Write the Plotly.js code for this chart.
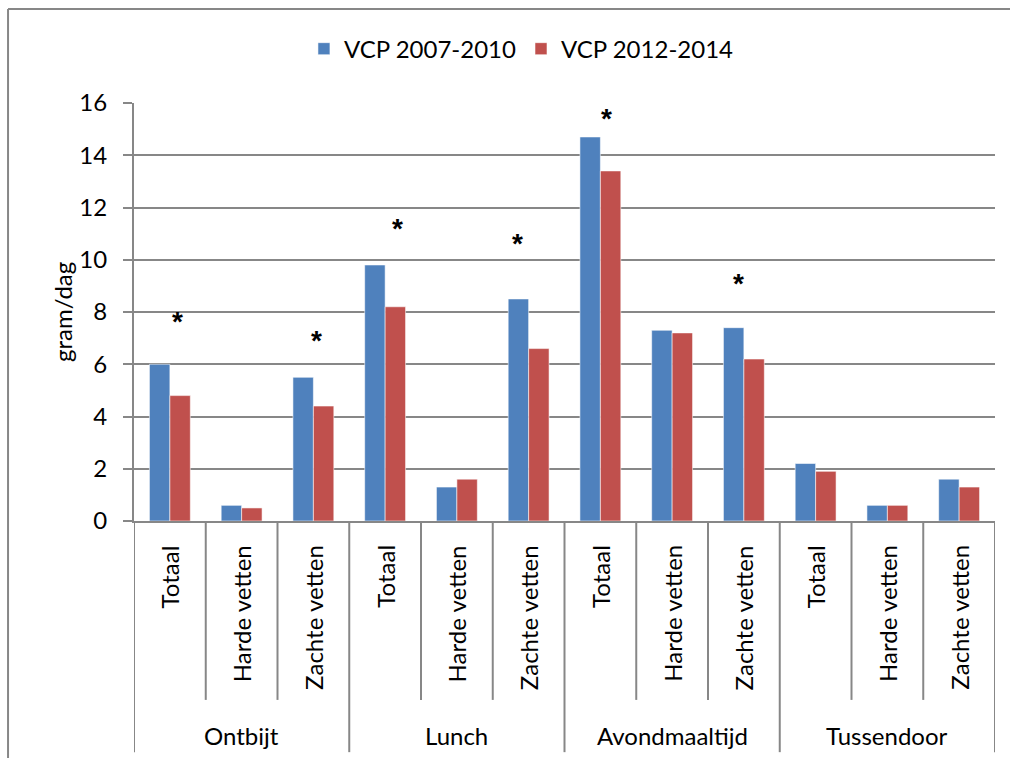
<!DOCTYPE html>
<html>
<head>
<meta charset="utf-8">
<script src="https://cdn.plot.ly/plotly-3.0.1.min.js"></script>
<style>
  html, body { margin: 0; padding: 0; background: #ffffff; }
  #chart { width: 1010px; height: 758px; }
</style>
</head>
<body>
<div id="chart"></div>
<script>
// ---- Data ----
const groups = ['Ontbijt', 'Lunch', 'Avondmaaltijd', 'Tussendoor'];
const subLabels = ['Totaal', 'Harde vetten', 'Zachte vetten',
                   'Totaal', 'Harde vetten', 'Zachte vetten',
                   'Totaal', 'Harde vetten', 'Zachte vetten',
                   'Totaal', 'Harde vetten', 'Zachte vetten'];
const seriesNames = ['VCP 2007-2010', 'VCP 2012-2014'];
const vcp20072010 = [6.0, 0.6, 5.5, 9.8, 1.3, 8.5, 14.7, 7.3, 7.4, 2.2, 0.6, 1.6];
const vcp20122014 = [4.8, 0.5, 4.4, 8.2, 1.6, 6.6, 13.4, 7.2, 6.2, 1.9, 0.6, 1.3];
// significance markers (category position, height in gram/dag)
const starX = [0.1, 2.05, 3.17, 4.85, 6.09, 7.92];
const starY = [7.77, 7.04, 11.33, 10.73, 15.54, 9.22];
const yTitle = 'gram/dag';

// ---- Style ----
const FONT = 'Lato, "Open Sans", sans-serif';
const GRID = '#878787';
const xs = subLabels.map((_, i) => i);
const perGroup = subLabels.length / groups.length;

const traces = [
  {
    type: 'bar', name: seriesNames[0], x: xs, y: vcp20072010,
    marker: { color: '#4F81BD', line: { color: 'rgba(255,255,255,0.55)', width: 1 } },
    hoverinfo: 'y'
  },
  {
    type: 'bar', name: seriesNames[1], x: xs, y: vcp20122014,
    marker: { color: '#C0504D', line: { color: 'rgba(255,255,255,0.55)', width: 1 } },
    hoverinfo: 'y'
  }
];

const shapes = [];
const annotations = [];
// category dividers
for (let k = 0; k <= subLabels.length; k++) {
  const isGroup = (k % perGroup === 0);
  shapes.push({
    type: 'line', xref: 'x', yref: 'paper',
    x0: k - 0.5, x1: k - 0.5, y0: 0, y1: isGroup ? -0.553 : -0.428,
    line: { color: GRID, width: 2 }
  });
}
// outer chart border (left and top)
shapes.push({ type: 'line', xref: 'paper', yref: 'paper', x0: -0.1463, x1: -0.1463, y0: -0.8, y1: 1.2249,
  line: { color: GRID, width: 2 } });
shapes.push({ type: 'line', xref: 'paper', yref: 'paper', x0: -0.1463, x1: 1.2, y0: 1.2249, y1: 1.2249,
  line: { color: GRID, width: 2 } });

// significance asterisks
starX.forEach((sx, i) => {
  annotations.push({
    xref: 'x', yref: 'y', x: sx, y: starY[i], xanchor: 'center', yanchor: 'middle',
    yshift: -3, text: '*', showarrow: false,
    font: { family: '"Liberation Sans", Arial, sans-serif', size: 28, color: '#000', weight: 'bold' }
  });
});
// sub-category labels
subLabels.forEach((lab, i) => {
  annotations.push({
    xref: 'x', yref: 'paper', x: i, y: 0, yanchor: 'top', xanchor: 'center',
    yshift: -22, text: lab, textangle: -90, showarrow: false,
    font: { family: FONT, size: 24, color: '#000' }
  });
});
// group labels
groups.forEach((g, gi) => {
  annotations.push({
    xref: 'x', yref: 'paper', x: gi * perGroup + (perGroup - 1) / 2, y: 0,
    yanchor: 'middle', xanchor: 'center', yshift: -214, text: g, showarrow: false,
    font: { family: FONT, size: 24, color: '#000' }
  });
});
// y-axis title
annotations.push({
  xref: 'paper', yref: 'paper', x: -0.0836, y: 0.5, xanchor: 'center', yanchor: 'middle',
  text: yTitle, textangle: -90, showarrow: false,
  font: { family: FONT, size: 24, color: '#000' }
});

const layout = {
  width: 1010, height: 758,
  margin: { l: 134, r: 15, t: 103, b: 237, pad: 0 },
  paper_bgcolor: '#ffffff', plot_bgcolor: '#ffffff',
  font: { family: FONT, size: 24, color: '#000' },
  barmode: 'group', bargap: 0.43, bargroupgap: 0,
  showlegend: true,
  legend: {
    orientation: 'h', x: 0.45, xanchor: 'center', y: 1.129, yanchor: 'middle',
    font: { family: FONT, size: 24, color: '#000' }, traceorder: 'normal',
    itemwidth: 30
  },
  xaxis: {
    range: [-0.5, 11.5], showticklabels: false, showgrid: false, zeroline: false,
    showline: true, linecolor: GRID, linewidth: 2, ticks: '', fixedrange: true
  },
  yaxis: {
    range: [0, 16], dtick: 2, tick0: 0, showgrid: true, gridcolor: GRID, gridwidth: 2,
    zeroline: false, showline: true, linecolor: GRID, linewidth: 2,
    ticks: 'outside', ticklen: 9, tickwidth: 2, tickcolor: GRID,
    ticklabelstandoff: 11,
    tickfont: { family: FONT, size: 24, color: '#000' }, fixedrange: true
  },
  shapes: shapes,
  annotations: annotations
};

Plotly.newPlot('chart', traces, layout, { displayModeBar: false, staticPlot: true });
</script>
</body>
</html>
